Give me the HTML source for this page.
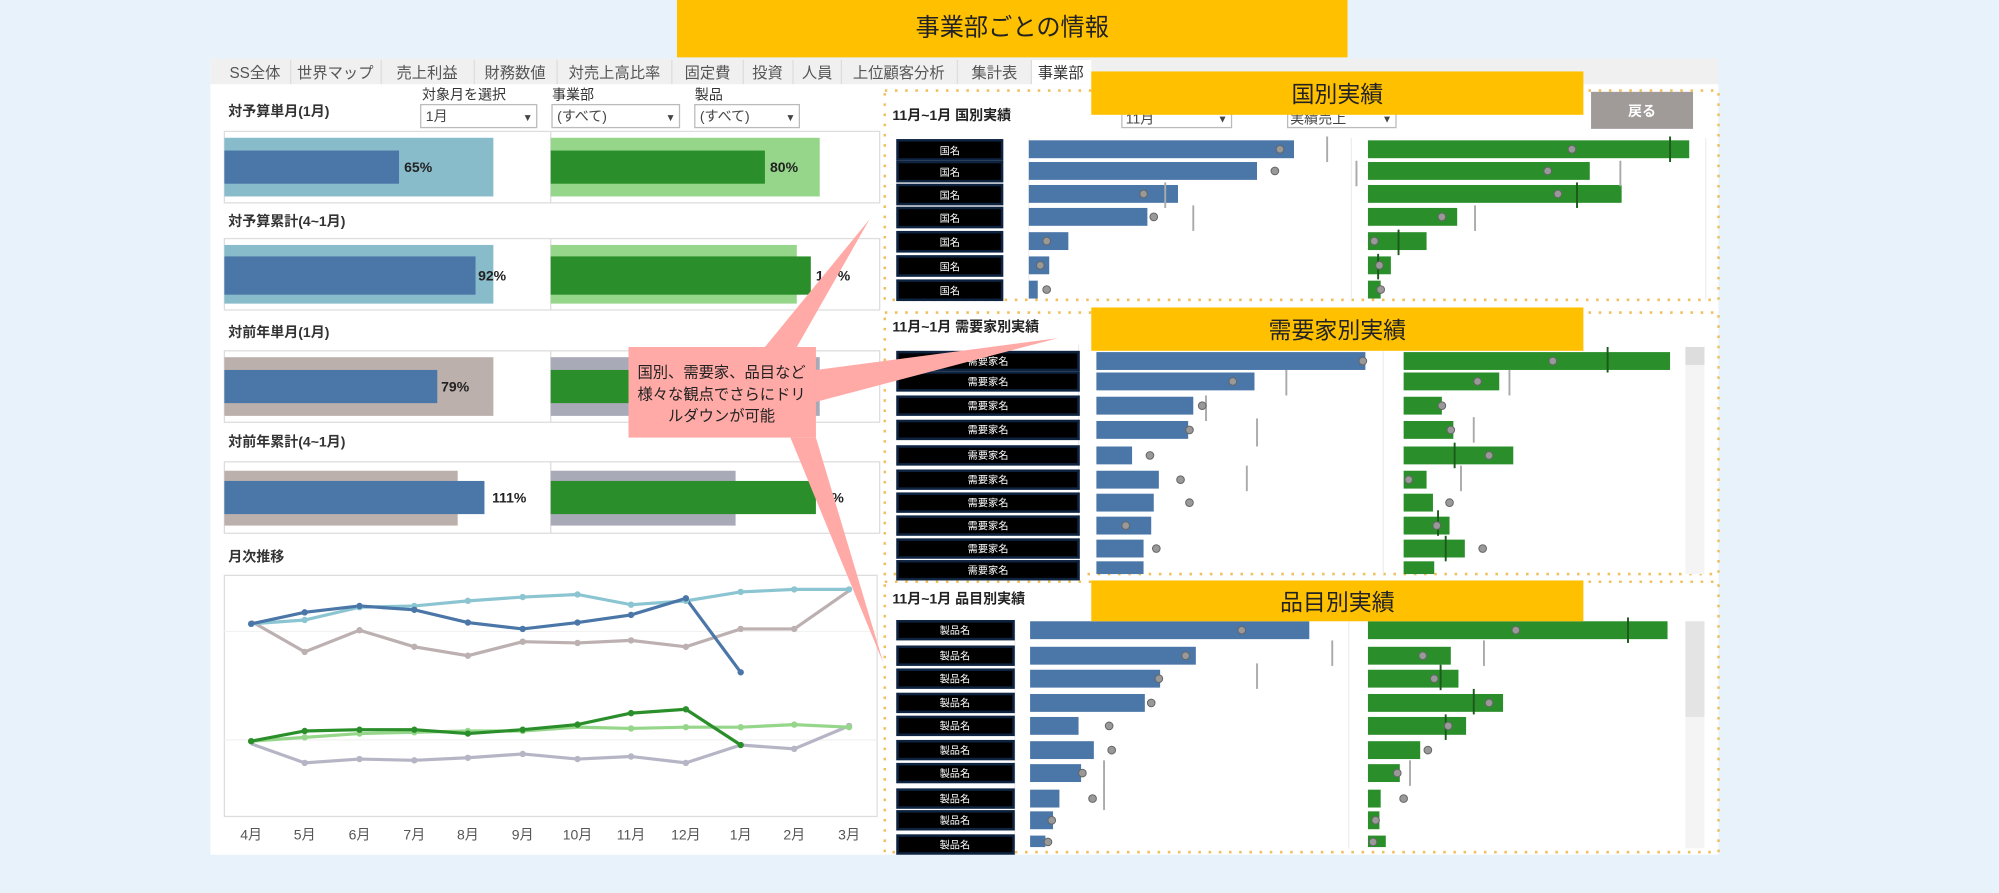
<!DOCTYPE html>
<html><head><meta charset="utf-8"><style>
html,body{margin:0;padding:0;background:#e8f2fb;width:1999px;height:893px;overflow:hidden}
svg{display:block}
text{font-family:"Liberation Sans","Noto Sans CJK JP",sans-serif}
</style></head><body>
<svg width="1999" height="893" viewBox="0 0 1568 700" preserveAspectRatio="none" xmlns="http://www.w3.org/2000/svg">
<rect width="1568" height="700" fill="#e8f2fb"/>
<rect x="531" y="0" width="526" height="45" fill="#ffc000"/>
<text x="794" y="28" font-size="19" text-anchor="middle" fill="#222">事業部ごとの情報</text>
<rect x="165" y="46" width="1183" height="624" fill="#fff"/>
<rect x="165" y="46" width="1183" height="20" fill="#f0f0f0"/>
<g font-size="12" fill="#555" text-anchor="middle">
<text x="200" y="61">SS全体</text><text x="263" y="61">世界マップ</text><text x="335" y="61">売上利益</text><text x="404" y="61">財務数値</text><text x="482" y="61">対売上高比率</text><text x="555" y="61">固定費</text><text x="602" y="61">投資</text><text x="641" y="61">人員</text><text x="705" y="61">上位顧客分析</text><text x="780" y="61">集計表</text></g>
<rect x="809" y="47" width="47" height="19" fill="#fff"/><text x="832" y="61" font-size="12" fill="#333" text-anchor="middle">事業部</text>
<g stroke="#ddd"><line x1="228" y1="47" x2="228" y2="66"/><line x1="299" y1="47" x2="299" y2="66"/><line x1="372" y1="47" x2="372" y2="66"/><line x1="437" y1="47" x2="437" y2="66"/><line x1="527" y1="47" x2="527" y2="66"/><line x1="583" y1="47" x2="583" y2="66"/><line x1="622" y1="47" x2="622" y2="66"/><line x1="660" y1="47" x2="660" y2="66"/><line x1="751" y1="47" x2="751" y2="66"/><line x1="809" y1="47" x2="809" y2="66"/></g>
<g font-size="11" fill="#333" font-weight="bold">
<text x="179" y="91">対予算単月(1月)</text><text x="179" y="177">対予算累計(4~1月)</text><text x="179" y="264">対前年単月(1月)</text><text x="179" y="350">対前年累計(4~1月)</text><text x="179" y="440">月次推移</text></g>
<g font-size="11" fill="#333"><text x="331" y="78">対象月を選択</text><text x="433" y="78">事業部</text><text x="545" y="78">製品</text></g>
<g fill="#fff" stroke="#bbb"><rect x="330" y="82" width="91" height="18"/><rect x="433" y="82" width="100" height="18"/><rect x="545" y="82" width="82" height="18"/></g>
<g font-size="11" fill="#444"><text x="334" y="95">1月</text><text x="437" y="95">(すべて)</text><text x="549" y="95">(すべて)</text>
<text x="410" y="95" font-size="8">▼</text><text x="522" y="95" font-size="8">▼</text><text x="616" y="95" font-size="8">▼</text></g>
<g fill="none" stroke="#ddd"><rect x="176" y="103" width="514" height="56"/><rect x="176" y="187" width="514" height="56"/><rect x="176" y="275" width="514" height="56"/><rect x="176" y="362" width="514" height="56"/>
<line x1="432" y1="103" x2="432" y2="159"/><line x1="432" y1="187" x2="432" y2="243"/><line x1="432" y1="275" x2="432" y2="331"/><line x1="432" y1="362" x2="432" y2="418"/></g>
<rect x="176" y="108" width="211" height="46" fill="#89bccb"/><rect x="176" y="118" width="137" height="26" fill="#4a76a8"/>
<rect x="432" y="108" width="211" height="46" fill="#96d68a"/><rect x="432" y="118" width="168" height="26" fill="#2a8f2a"/>
<rect x="176" y="192" width="211" height="46" fill="#89bccb"/><rect x="176" y="201" width="197" height="30" fill="#4a76a8"/>
<rect x="432" y="192" width="193" height="46" fill="#96d68a"/><rect x="432" y="201" width="204" height="30" fill="#2a8f2a"/>
<rect x="176" y="280" width="211" height="46" fill="#bcb0ad"/><rect x="176" y="290" width="167" height="26" fill="#4a76a8"/>
<rect x="432" y="280" width="211" height="46" fill="#a9aab8"/><rect x="432" y="290" width="190" height="26" fill="#2a8f2a"/>
<rect x="176" y="369" width="183" height="43" fill="#bcb0ad"/><rect x="176" y="377" width="204" height="26" fill="#4a76a8"/>
<rect x="432" y="369" width="145" height="43" fill="#a9aab8"/><rect x="432" y="377" width="208" height="26" fill="#2a8f2a"/>
<g font-size="11" font-weight="bold" fill="#222"><text x="317" y="135">65%</text><text x="604" y="135">80%</text><text x="375" y="220">92%</text><text x="640" y="220">1‥%</text><text x="346" y="307">79%</text><text x="386" y="394">111%</text><text x="646" y="394">1%</text></g>
<rect x="176" y="451" width="512" height="189" fill="#fff" stroke="#ddd"/>
<g stroke="#f2f2f2"><line x1="176" y1="495" x2="688" y2="495"/><line x1="176" y1="580" x2="688" y2="580"/></g>
<g font-size="11" fill="#555" text-anchor="middle"><text x="197" y="658">4月</text><text x="239" y="658">5月</text><text x="282" y="658">6月</text><text x="325" y="658">7月</text><text x="367" y="658">8月</text><text x="410" y="658">9月</text><text x="453" y="658">10月</text><text x="495" y="658">11月</text><text x="538" y="658">12月</text><text x="581" y="658">1月</text><text x="623" y="658">2月</text><text x="666" y="658">3月</text></g>
<g fill="none" stroke-width="2.5">
<polyline stroke="#bcb0b0" points="197,487 239,511 282,494 325,507 367,514 410,503 453,504 495,502 538,507 581,493 623,493 666,463"/>
<polyline stroke="#8cc5d2" points="197,489 239,486 282,476 325,475 367,471 410,468 453,466 495,474 538,471 581,464 623,462 666,462"/>
<polyline stroke="#4a76a8" points="197,489 239,480 282,475 325,478 367,488 410,493 453,488 495,482 538,469 581,527"/>
<polyline stroke="#b5b5c5" points="197,583 239,598 282,595 325,596 367,594 410,591 453,595 495,593 538,598 581,584 623,587 666,569"/>
<polyline stroke="#96d68a" points="197,581 239,578 282,575 325,574 367,573 410,573 453,570 495,571 538,570 581,570 623,568 666,570"/>
<polyline stroke="#2a8f2a" points="197,581 239,573 282,572 325,572 367,575 410,572 453,568 495,559 538,556 581,584"/>
</g>
<g fill="#8cc5d2"><circle cx="239" cy="486" r="2.5"/><circle cx="282" cy="476" r="2.5"/><circle cx="325" cy="475" r="2.5"/><circle cx="367" cy="471" r="2.5"/><circle cx="410" cy="468" r="2.5"/><circle cx="453" cy="466" r="2.5"/><circle cx="495" cy="474" r="2.5"/><circle cx="538" cy="471" r="2.5"/><circle cx="581" cy="464" r="2.5"/><circle cx="623" cy="462" r="2.5"/><circle cx="666" cy="462" r="2.5"/></g>
<g fill="#4a76a8"><circle cx="197" cy="489" r="2.5"/><circle cx="239" cy="480" r="2.5"/><circle cx="282" cy="475" r="2.5"/><circle cx="325" cy="478" r="2.5"/><circle cx="367" cy="488" r="2.5"/><circle cx="410" cy="493" r="2.5"/><circle cx="453" cy="488" r="2.5"/><circle cx="495" cy="482" r="2.5"/><circle cx="538" cy="469" r="2.5"/><circle cx="581" cy="527" r="2.5"/></g>
<g fill="#bcb0b0"><circle cx="239" cy="511" r="2.5"/><circle cx="282" cy="494" r="2.5"/><circle cx="325" cy="507" r="2.5"/><circle cx="367" cy="514" r="2.5"/><circle cx="410" cy="503" r="2.5"/><circle cx="453" cy="504" r="2.5"/><circle cx="495" cy="502" r="2.5"/><circle cx="538" cy="507" r="2.5"/><circle cx="581" cy="493" r="2.5"/><circle cx="623" cy="493" r="2.5"/></g>
<g fill="#b5b5c5"><circle cx="239" cy="598" r="2.5"/><circle cx="282" cy="595" r="2.5"/><circle cx="325" cy="596" r="2.5"/><circle cx="367" cy="594" r="2.5"/><circle cx="410" cy="591" r="2.5"/><circle cx="453" cy="595" r="2.5"/><circle cx="495" cy="593" r="2.5"/><circle cx="538" cy="598" r="2.5"/><circle cx="623" cy="587" r="2.5"/><circle cx="666" cy="569" r="2.5"/></g>
<g fill="#96d68a"><circle cx="239" cy="578" r="2.5"/><circle cx="282" cy="575" r="2.5"/><circle cx="325" cy="574" r="2.5"/><circle cx="367" cy="573" r="2.5"/><circle cx="410" cy="573" r="2.5"/><circle cx="495" cy="571" r="2.5"/><circle cx="538" cy="570" r="2.5"/><circle cx="581" cy="570" r="2.5"/><circle cx="623" cy="568" r="2.5"/><circle cx="666" cy="570" r="2.5"/></g>
<g fill="#2a8f2a"><circle cx="197" cy="581" r="2.5"/><circle cx="239" cy="573" r="2.5"/><circle cx="282" cy="572" r="2.5"/><circle cx="325" cy="572" r="2.5"/><circle cx="367" cy="575" r="2.5"/><circle cx="410" cy="572" r="2.5"/><circle cx="453" cy="568" r="2.5"/><circle cx="495" cy="559" r="2.5"/><circle cx="538" cy="556" r="2.5"/><circle cx="581" cy="584" r="2.5"/></g>
<g fill="none" stroke="#f0c060" stroke-width="2" stroke-dasharray="2,6">
<rect x="694" y="71" width="654" height="164"/><rect x="694" y="245" width="654" height="205"/><rect x="694" y="456" width="654" height="212"/></g>
<g font-size="11" font-weight="bold" fill="#222"><text x="700" y="94">11月~1月 国別実績</text><text x="700" y="260">11月~1月 需要家別実績</text><text x="700" y="473">11月~1月 品目別実績</text></g>
<g fill="#fff" stroke="#bbb"><rect x="880" y="84" width="86" height="16"/><rect x="1010" y="84" width="85" height="16"/></g>
<g font-size="11" fill="#444"><text x="883" y="97">11月</text><text x="1012" y="97">実績売上</text><text x="955" y="96" font-size="8">▼</text><text x="1084" y="96" font-size="8">▼</text></g>
<rect x="1248" y="72" width="80" height="29" fill="#a09a98"/><text x="1288" y="91" font-size="11" fill="#fff" font-weight="bold" text-anchor="middle">戻る</text>
<g stroke="#eee"><line x1="807" y1="108" x2="807" y2="235"/><line x1="1060" y1="108" x2="1060" y2="235"/><line x1="1338" y1="108" x2="1338" y2="235"/>
<line x1="846" y1="270" x2="846" y2="450"/><line x1="1085" y1="270" x2="1085" y2="450"/><line x1="796" y1="485" x2="796" y2="665"/><line x1="1058" y1="485" x2="1058" y2="665"/></g>
<rect x="1322" y="272" width="15" height="178" fill="#f4f4f4"/><rect x="1322" y="272" width="15" height="14" fill="#ddd"/>
<rect x="1322" y="487" width="15" height="178" fill="#f4f4f4"/><rect x="1322" y="487" width="15" height="75" fill="#e4e4e4"/>
<g fill="#000" stroke="#0d2340" stroke-width="2">
<rect x="704" y="110" width="82" height="15"/><rect x="704" y="127" width="82" height="15"/><rect x="704" y="145" width="82" height="15"/><rect x="704" y="163" width="82" height="15"/><rect x="704" y="182" width="82" height="15"/><rect x="704" y="201" width="82" height="15"/><rect x="704" y="220" width="82" height="15"/></g>
<g font-size="8" fill="#fff" text-anchor="middle"><text x="745" y="121">国名</text><text x="745" y="138">国名</text><text x="745" y="156">国名</text><text x="745" y="174">国名</text><text x="745" y="193">国名</text><text x="745" y="212">国名</text><text x="745" y="231">国名</text></g>
<g fill="#4a76a8"><rect x="807" y="110" width="208" height="14"/><rect x="807" y="127" width="179" height="14"/><rect x="807" y="145" width="117" height="14"/><rect x="807" y="163" width="93" height="14"/><rect x="807" y="182" width="31" height="14"/><rect x="807" y="201" width="16" height="14"/><rect x="807" y="220" width="7" height="14"/></g>
<g fill="#2a8f2a"><rect x="1073" y="110" width="252" height="14"/><rect x="1073" y="127" width="174" height="14"/><rect x="1073" y="145" width="199" height="14"/><rect x="1073" y="163" width="70" height="14"/><rect x="1073" y="182" width="46" height="14"/><rect x="1073" y="201" width="18" height="14"/><rect x="1073" y="220" width="10" height="14"/></g>
<g stroke="#aaa" stroke-width="1.5"><line x1="1041" y1="107" x2="1041" y2="127"/><line x1="1064" y1="126" x2="1064" y2="146"/><line x1="914" y1="143" x2="914" y2="163"/><line x1="936" y1="161" x2="936" y2="181"/><line x1="1271" y1="126" x2="1271" y2="146"/><line x1="1157" y1="161" x2="1157" y2="181"/></g>
<g stroke="#1a5a1a" stroke-width="1.5"><line x1="1310" y1="107" x2="1310" y2="127"/><line x1="1237" y1="143" x2="1237" y2="163"/><line x1="1097" y1="180" x2="1097" y2="200"/><line x1="1081" y1="199" x2="1081" y2="219"/></g>
<g fill="#999" stroke="#666" stroke-width="0.8"><circle cx="1004" cy="117" r="3"/><circle cx="1000" cy="134" r="3"/><circle cx="897" cy="152" r="3"/><circle cx="905" cy="170" r="3"/><circle cx="821" cy="189" r="3"/><circle cx="816" cy="208" r="3"/><circle cx="821" cy="227" r="3"/>
<circle cx="1233" cy="117" r="3"/><circle cx="1214" cy="134" r="3"/><circle cx="1222" cy="152" r="3"/><circle cx="1131" cy="170" r="3"/><circle cx="1078" cy="189" r="3"/><circle cx="1082" cy="208" r="3"/><circle cx="1083" cy="227" r="3"/></g>
<g fill="#000" stroke="#0d2340" stroke-width="2">
<rect x="704" y="276" width="142" height="14"/><rect x="704" y="292" width="142" height="14"/><rect x="704" y="311" width="142" height="14"/><rect x="704" y="330" width="142" height="14"/><rect x="704" y="350" width="142" height="14"/><rect x="704" y="369" width="142" height="14"/><rect x="704" y="387" width="142" height="14"/><rect x="704" y="405" width="142" height="14"/><rect x="704" y="423" width="142" height="14"/><rect x="704" y="440" width="142" height="14"/></g>
<g font-size="8" fill="#fff" text-anchor="middle"><text x="775" y="286">需要家名</text><text x="775" y="302">需要家名</text><text x="775" y="321">需要家名</text><text x="775" y="340">需要家名</text><text x="775" y="360">需要家名</text><text x="775" y="379">需要家名</text><text x="775" y="397">需要家名</text><text x="775" y="415">需要家名</text><text x="775" y="433">需要家名</text><text x="775" y="450">需要家名</text></g>
<g fill="#4a76a8"><rect x="860" y="276" width="211" height="14"/><rect x="860" y="292" width="124" height="14"/><rect x="860" y="311" width="76" height="14"/><rect x="860" y="330" width="72" height="14"/><rect x="860" y="350" width="28" height="14"/><rect x="860" y="369" width="49" height="14"/><rect x="860" y="387" width="45" height="14"/><rect x="860" y="405" width="43" height="14"/><rect x="860" y="423" width="37" height="14"/><rect x="860" y="440" width="37" height="10"/></g>
<g fill="#2a8f2a"><rect x="1101" y="276" width="209" height="14"/><rect x="1101" y="292" width="75" height="14"/><rect x="1101" y="311" width="30" height="14"/><rect x="1101" y="330" width="39" height="14"/><rect x="1101" y="350" width="86" height="14"/><rect x="1101" y="369" width="18" height="14"/><rect x="1101" y="387" width="23" height="14"/><rect x="1101" y="405" width="36" height="14"/><rect x="1101" y="423" width="48" height="14"/><rect x="1101" y="440" width="24" height="10"/></g>
<g stroke="#aaa" stroke-width="1.5"><line x1="1009" y1="290" x2="1009" y2="310"/><line x1="946" y1="310" x2="946" y2="330"/><line x1="986" y1="328" x2="986" y2="350"/><line x1="978" y1="365" x2="978" y2="385"/><line x1="1184" y1="290" x2="1184" y2="310"/><line x1="1156" y1="327" x2="1156" y2="347"/><line x1="1146" y1="365" x2="1146" y2="385"/></g>
<g stroke="#1a5a1a" stroke-width="1.5"><line x1="1261" y1="272" x2="1261" y2="292"/><line x1="1141" y1="347" x2="1141" y2="367"/><line x1="1128" y1="400" x2="1128" y2="420"/><line x1="1134" y1="420" x2="1134" y2="440"/></g>
<g fill="#999" stroke="#666" stroke-width="0.8"><circle cx="1069" cy="283" r="3"/><circle cx="967" cy="299" r="3"/><circle cx="943" cy="318" r="3"/><circle cx="933" cy="337" r="3"/><circle cx="902" cy="357" r="3"/><circle cx="926" cy="376" r="3"/><circle cx="933" cy="394" r="3"/><circle cx="883" cy="412" r="3"/><circle cx="907" cy="430" r="3"/>
<circle cx="1218" cy="283" r="3"/><circle cx="1159" cy="299" r="3"/><circle cx="1131" cy="318" r="3"/><circle cx="1138" cy="337" r="3"/><circle cx="1168" cy="357" r="3"/><circle cx="1105" cy="376" r="3"/><circle cx="1137" cy="394" r="3"/><circle cx="1127" cy="412" r="3"/><circle cx="1163" cy="430" r="3"/></g>
<g fill="#000" stroke="#0d2340" stroke-width="2">
<rect x="704" y="487" width="91" height="14"/><rect x="704" y="507" width="91" height="14"/><rect x="704" y="525" width="91" height="14"/><rect x="704" y="544" width="91" height="14"/><rect x="704" y="562" width="91" height="14"/><rect x="704" y="581" width="91" height="14"/><rect x="704" y="599" width="91" height="14"/><rect x="704" y="619" width="91" height="14"/><rect x="704" y="636" width="91" height="14"/><rect x="704" y="655" width="91" height="14"/></g>
<g font-size="8" fill="#fff" text-anchor="middle"><text x="749" y="497">製品名</text><text x="749" y="517">製品名</text><text x="749" y="535">製品名</text><text x="749" y="554">製品名</text><text x="749" y="572">製品名</text><text x="749" y="591">製品名</text><text x="749" y="609">製品名</text><text x="749" y="629">製品名</text><text x="749" y="646">製品名</text><text x="749" y="665">製品名</text></g>
<g fill="#4a76a8"><rect x="808" y="487" width="219" height="14"/><rect x="808" y="507" width="130" height="14"/><rect x="808" y="525" width="102" height="14"/><rect x="808" y="544" width="90" height="14"/><rect x="808" y="562" width="38" height="14"/><rect x="808" y="581" width="50" height="14"/><rect x="808" y="599" width="40" height="14"/><rect x="808" y="619" width="23" height="14"/><rect x="808" y="636" width="18" height="14"/><rect x="808" y="655" width="12" height="9"/></g>
<g fill="#2a8f2a"><rect x="1073" y="487" width="235" height="14"/><rect x="1073" y="507" width="65" height="14"/><rect x="1073" y="525" width="71" height="14"/><rect x="1073" y="544" width="106" height="14"/><rect x="1073" y="562" width="77" height="14"/><rect x="1073" y="581" width="41" height="14"/><rect x="1073" y="599" width="25" height="14"/><rect x="1073" y="619" width="10" height="14"/><rect x="1073" y="636" width="9" height="14"/><rect x="1073" y="655" width="14" height="9"/></g>
<g stroke="#aaa" stroke-width="1.5"><line x1="1045" y1="502" x2="1045" y2="522"/><line x1="986" y1="520" x2="986" y2="540"/><line x1="866" y1="596" x2="866" y2="616"/><line x1="866" y1="615" x2="866" y2="635"/><line x1="1164" y1="502" x2="1164" y2="522"/><line x1="1106" y1="596" x2="1106" y2="616"/></g>
<g stroke="#1a5a1a" stroke-width="1.5"><line x1="1277" y1="484" x2="1277" y2="504"/><line x1="1130" y1="521" x2="1130" y2="541"/><line x1="1156" y1="540" x2="1156" y2="560"/><line x1="1134" y1="560" x2="1134" y2="580"/></g>
<g fill="#999" stroke="#666" stroke-width="0.8"><circle cx="974" cy="494" r="3"/><circle cx="930" cy="514" r="3"/><circle cx="909" cy="532" r="3"/><circle cx="903" cy="551" r="3"/><circle cx="870" cy="569" r="3"/><circle cx="872" cy="588" r="3"/><circle cx="849" cy="606" r="3"/><circle cx="857" cy="626" r="3"/><circle cx="825" cy="643" r="3"/><circle cx="822" cy="660" r="3"/>
<circle cx="1189" cy="494" r="3"/><circle cx="1116" cy="514" r="3"/><circle cx="1125" cy="532" r="3"/><circle cx="1168" cy="551" r="3"/><circle cx="1136" cy="569" r="3"/><circle cx="1120" cy="588" r="3"/><circle cx="1096" cy="606" r="3"/><circle cx="1101" cy="626" r="3"/><circle cx="1079" cy="643" r="3"/><circle cx="1077" cy="660" r="3"/></g>
<g fill="#ffc000"><rect x="856" y="56" width="386" height="34"/><rect x="856" y="241" width="386" height="34"/><rect x="856" y="455" width="386" height="32"/></g>
<g font-size="18" fill="#222" text-anchor="middle"><text x="1049" y="80">国別実績</text><text x="1049" y="265">需要家別実績</text><text x="1049" y="478">品目別実績</text></g>
<g fill="#ffaaa6"><polygon points="600,272 682,172 625,272"/><polygon points="640,290 830,265 640,315"/><polygon points="620,343 693,520 640,343"/><rect x="493" y="272" width="147" height="71"/></g>
<g font-size="12" fill="#222" text-anchor="middle"><text x="566" y="296">国別、需要家、品目など</text><text x="566" y="313">様々な観点でさらにドリ</text><text x="566" y="330">ルダウンが可能</text></g>
</svg>
</body></html>
